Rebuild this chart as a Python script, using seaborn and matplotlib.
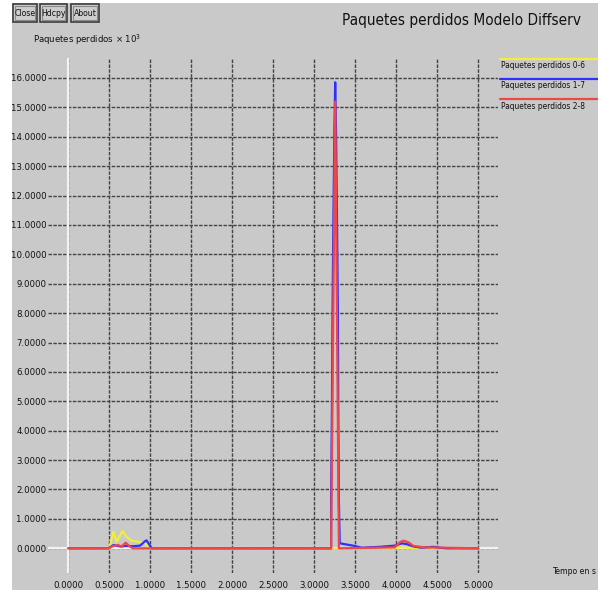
import numpy as np
import pandas as pd
import seaborn as sns
import matplotlib
matplotlib.use("Agg")
import matplotlib.pyplot as plt
from matplotlib.patches import Rectangle
from matplotlib.lines import Line2D

# ---- data -------------------------------------------------------------
series_names = ["Paquetes perdidos 0-6", "Paquetes perdidos 1-7", "Paquetes perdidos 2-8"]
series_colors = ["#f2ee3a", "#2f2fff", "#f04646"]

t_06 = [0.0, 0.50, 0.55, 0.59, 0.66, 0.71, 0.77, 0.875, 0.935, 0.99, 1.03,
        3.20, 3.30, 3.32, 3.95, 4.05, 4.12, 4.20, 5.0]
v_06 = [0.0, 0.0, 0.56, 0.22, 0.59, 0.39, 0.26, 0.21, 0.17, 0.03, 0.0,
        0.0, 0.0, 0.0, 0.0, 0.03, 0.02, 0.0, 0.0]

t_17 = [0.0, 0.49, 0.55, 0.64, 0.70, 0.79, 0.875, 0.935, 0.955, 0.99, 1.02,
        3.205, 3.205, 3.215, 3.222, 3.232, 3.245, 3.255, 3.265, 3.278,
        3.288, 3.292, 3.300, 3.31, 3.475, 3.58, 3.80, 3.98, 4.07, 4.13,
        4.21, 4.31, 4.45, 4.53, 4.62, 5.0]
v_17 = [0.0, 0.0, 0.11, 0.06, 0.08, 0.07, 0.09, 0.24, 0.27, 0.11, 0.0,
        0.0, 1.6, 4.7, 7.9, 10.9, 14.2, 15.85, 14.2, 10.9,
        7.9, 4.8, 1.6, 0.17, 0.09, 0.02, 0.05, 0.09, 0.17, 0.14,
        0.06, 0.02, 0.05, 0.02, 0.0, 0.0]

t_28 = [0.0, 0.49, 0.55, 0.61, 0.65, 0.70, 0.75, 0.79, 3.205, 3.21, 3.255,
        3.30, 3.31, 3.98, 4.05, 4.09, 4.15, 4.21, 4.35, 4.62, 5.0]
v_28 = [0.0, 0.0, 0.08, 0.11, 0.06, 0.19, 0.06, 0.0, 0.0, 1.5, 15.2,
        0.0, 0.0, 0.03, 0.22, 0.26, 0.20, 0.08, 0.03, 0.02, 0.0]

x_ticks = [0.0, 0.5, 1.0, 1.5, 2.0, 2.5, 3.0, 3.5, 4.0, 4.5, 5.0]
y_ticks = list(range(0, 17))

frames = []
for name, t, v in zip(series_names, [t_06, t_17, t_28], [v_06, v_17, v_28]):
    frames.append(pd.DataFrame({"t": t, "v": v, "serie": name}))
df = pd.concat(frames, ignore_index=True)

# ---- style ------------------------------------------------------------
BG = "#c9c9c9"
sns.set_style("white", {"axes.facecolor": BG, "figure.facecolor": BG})
plt.rcParams["font.family"] = ["DejaVu Sans"]
plt.rcParams["font.stretch"] = "condensed"

W, H = 598, 590
fig = plt.figure(figsize=(W / 100, H / 100), dpi=100)
fig.patch.set_facecolor("white")
# gray window area inside a thin white frame
fig.add_artist(Rectangle((12 / W, 0), 1 - 12 / W, 1 - 3 / H, transform=fig.transFigure,
                         facecolor=BG, edgecolor="none", zorder=0))

def px(x, y):
    return x / W, 1 - y / H

L, R, T, B = 48, 498, 58, 573
ax = fig.add_axes([L / W, 1 - B / H, (R - L) / W, (B - T) / H])
ax.set_facecolor(BG)

x0_px, xs = 68.3, 82.0   # pixel of t=0, pixels per second
y0_px, ys = 548.3, 29.4  # pixel of v=0, pixels per unit
ax.set_xlim((L - x0_px) / xs, (R - x0_px) / xs)
ax.set_ylim((y0_px - B) / ys, (y0_px - T) / ys)

ax.set_xticks(x_ticks)
ax.set_xticklabels([f"{v:.4f}" for v in x_ticks], fontsize=6.8)
ax.set_yticks(y_ticks)
ax.set_yticklabels([f"{v:.4f}" for v in y_ticks], fontsize=6.8)
ax.tick_params(axis="both", length=0, colors="#111111")
ax.tick_params(axis="x", pad=6)
ax.tick_params(axis="y", pad=1)
for s in ax.spines.values():
    s.set_visible(False)

ax.grid(True, color="#444444", linestyle=(0, (2.5, 1)), linewidth=1.0)
ax.set_axisbelow(True)
ax.axhline(0, color="#f2f2f2", lw=1.6, zorder=1.5)
ax.axvline(0, color="#f2f2f2", lw=1.6, zorder=1.5)

sns.lineplot(data=df, x="t", y="v", hue="serie", palette=series_colors,
             hue_order=series_names, estimator=None, sort=False, legend=False,
             linewidth=1.6, ax=ax, zorder=3)
ax.set_xlabel("")
ax.set_ylabel("")

# ---- window decorations ----------------------------------------------
for label, x1, x2 in [("Close", 13, 37), ("Hdcpy", 40, 67), ("About", 71, 99)]:
    fx, fy = px(x1, 22)
    fig.add_artist(Rectangle((fx, fy), (x2 - x1) / W, 18 / H, transform=fig.transFigure,
                             facecolor="#cdcdcd", edgecolor="#3c3c3c", lw=1.2, zorder=2))
    fig.add_artist(Rectangle(px(x1 + 2, 20), (x2 - x1 - 4) / W, 14 / H,
                             transform=fig.transFigure, facecolor="none",
                             edgecolor="#8a8a8a", lw=0.8, zorder=2))
    fig.text(*px((x1 + x2) / 2, 13), label, fontsize=6.2, ha="center", va="center",
             color="#111111")

fig.text(*px(33, 40), r"Paquetes perdidos $\times$ 10$^3$", fontsize=6.8,
         ha="left", va="center", color="#111111")
fig.text(*px(462, 21), "Paquetes perdidos Modelo Diffserv", fontsize=11,
         ha="center", va="center", color="#111111")
fig.text(*px(596, 571), "Tempo en s", fontsize=6.2, ha="right", va="center",
         color="#111111")

# legend in the right margin: colored line above each name
for i, (name, col) in enumerate(zip(series_names, series_colors)):
    yl = 59 + 20 * i
    fig.add_artist(Line2D([500 / W, 1.0], [1 - yl / H] * 2, transform=fig.transFigure,
                          color=col, lw=1.6))
    fig.text(*px(501, yl + 7), name, fontsize=6, ha="left", va="center", color="#111111")

fig.savefig("out.png", dpi=100, facecolor=fig.get_facecolor())
